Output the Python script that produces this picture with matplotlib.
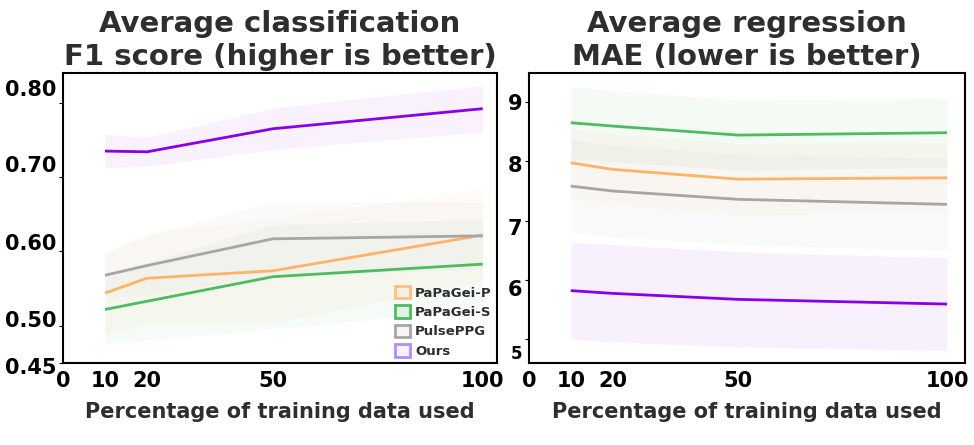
import matplotlib
matplotlib.use("Agg")
import matplotlib.pyplot as plt
import matplotlib.transforms as mtransforms
from matplotlib.patches import Patch

plt.rcParams['font.family'] = ['DejaVu Sans']

# ---------------- data ----------------
x_pct = [10, 20, 50, 100]
series_names = ["PaPaGei-P", "PaPaGei-S", "PulsePPG", "Ours"]
line_colors = ["#ffb366", "#4dbb5f", "#a6a6a6", "#8a00e6"]
edge_colors = ["#ffbf80", "#4dbb5f", "#a6a6a6", "#b38cff"]

f1_papagei_p = [0.544, 0.564, 0.574, 0.622]
f1_papagei_p_sd = [0.055, 0.062, 0.070, 0.062]
f1_papagei_s = [0.522, 0.533, 0.566, 0.583]
f1_papagei_s_sd = [0.046, 0.052, 0.070, 0.060]
f1_pulseppg = [0.568, 0.581, 0.617, 0.621]
f1_pulseppg_sd = [0.030, 0.040, 0.050, 0.045]
f1_ours = [0.735, 0.734, 0.765, 0.792]
f1_ours_sd = [0.0225, 0.0195, 0.028, 0.031]

mae_papagei_p = [7.976, 7.865, 7.700, 7.723]
mae_papagei_p_sd = [0.58, 0.60, 0.60, 0.60]
mae_papagei_s = [8.651, 8.595, 8.443, 8.483]
mae_papagei_s_sd = [0.61, 0.60, 0.59, 0.58]
mae_pulseppg = [7.583, 7.500, 7.360, 7.275]
mae_pulseppg_sd = [0.78, 0.77, 0.76, 0.78]
mae_ours = [5.820, 5.774, 5.673, 5.594]
mae_ours_sd = [0.815, 0.82, 0.80, 0.78]

x_ticks = [0, 10, 20, 50, 100]
f1_ticks = [0.45, 0.50, 0.60, 0.70, 0.80]
mae_ticks = [5, 6, 7, 8, 9]

# ---------------- figure ----------------
fig = plt.figure(figsize=(9.74, 4.45), dpi=100)
ax1 = fig.add_axes([63/974, 1-363/445, (497-63)/974, (363-73)/445])
ax2 = fig.add_axes([529/974, 1-363/445, (965-529)/974, (363-73)/445])

title_color = "#2e2e2e"

def draw(ax, means, sds, alpha):
    for m, s, c in zip(means, sds, line_colors):
        lo = [a - b for a, b in zip(m, s)]
        hi = [a + b for a, b in zip(m, s)]
        ax.fill_between(x_pct, lo, hi, color=c, alpha=alpha, linewidth=0)
    for m, c in zip(means, line_colors):
        ax.plot(x_pct, m, color=c, linewidth=2.0, solid_capstyle='butt')

draw(ax1, [f1_papagei_p, f1_papagei_s, f1_pulseppg, f1_ours],
     [f1_papagei_p_sd, f1_papagei_s_sd, f1_pulseppg_sd, f1_ours_sd], 0.05)
draw(ax2, [mae_papagei_p, mae_papagei_s, mae_pulseppg, mae_ours],
     [mae_papagei_p_sd, mae_papagei_s_sd, mae_pulseppg_sd, mae_ours_sd], 0.06)

ax1.set_xlim(0, 103.4)
ax1.set_ylim(0.45, 0.84)
ax2.set_xlim(0, 104.3)
ax2.set_ylim(4.6, 9.49)

for ax in (ax1, ax2):
    ax.set_xticks(x_ticks)
    ax.set_xticklabels([str(v) for v in x_ticks], fontsize=15, fontweight='bold')
    ax.tick_params(axis='x', length=0, pad=6)
    ax.tick_params(axis='y', length=3, width=0.8, pad=2)
    for sp in ax.spines.values():
        sp.set_linewidth(1.5)
        sp.set_color('black')
    ax.set_xlabel("Percentage of training data used", fontsize=15,
                  fontweight='bold', color=title_color, labelpad=8)

ax1.set_yticks(f1_ticks)
ax1.set_yticklabels([f"{v:.2f}" for v in f1_ticks], fontsize=15, fontweight='bold')
ax2.set_yticks(mae_ticks)
ax2.set_yticklabels([str(v) for v in mae_ticks], fontsize=15, fontweight='bold')

# shift tick labels to match reference placement
left_shift_px = [-3, 7, 9, 13, 15]
for lbl, dy in zip(ax1.get_yticklabels(), left_shift_px):
    lbl.set_transform(lbl.get_transform() +
                      mtransforms.ScaledTranslation(0, dy/100, fig.dpi_scale_trans))
right_shift_px = [-13, -8, -6, -3, 0]
for lbl, dy in zip(ax2.get_yticklabels(), right_shift_px):
    lbl.set_transform(lbl.get_transform() +
                      mtransforms.ScaledTranslation(0, dy/100, fig.dpi_scale_trans))
ax2.get_yticklabels()[0].set_fontsize(12)

ax1.set_title("Average classification\nF1 score (higher is better)", fontsize=21,
              fontweight='bold', color=title_color, linespacing=1.2, pad=6)
ax2.set_title("Average regression\nMAE (lower is better)", fontsize=21,
              fontweight='bold', color=title_color, linespacing=1.2, pad=6)

handles = [Patch(facecolor=(*matplotlib.colors.to_rgb(ec), 0.1), edgecolor=ec,
                 linewidth=2.0, label=n)
           for n, ec in zip(series_names, edge_colors)]
leg = ax1.legend(handles=handles, loc='lower right', frameon=False,
                 prop={'size': 9.5, 'weight': 'bold'}, handlelength=1.2,
                 handleheight=1.1, handletextpad=0.35, labelspacing=0.42,
                 borderaxespad=0.2, borderpad=0.2)
for t in leg.get_texts():
    t.set_color(title_color)

fig.savefig("out.png", dpi=100)
